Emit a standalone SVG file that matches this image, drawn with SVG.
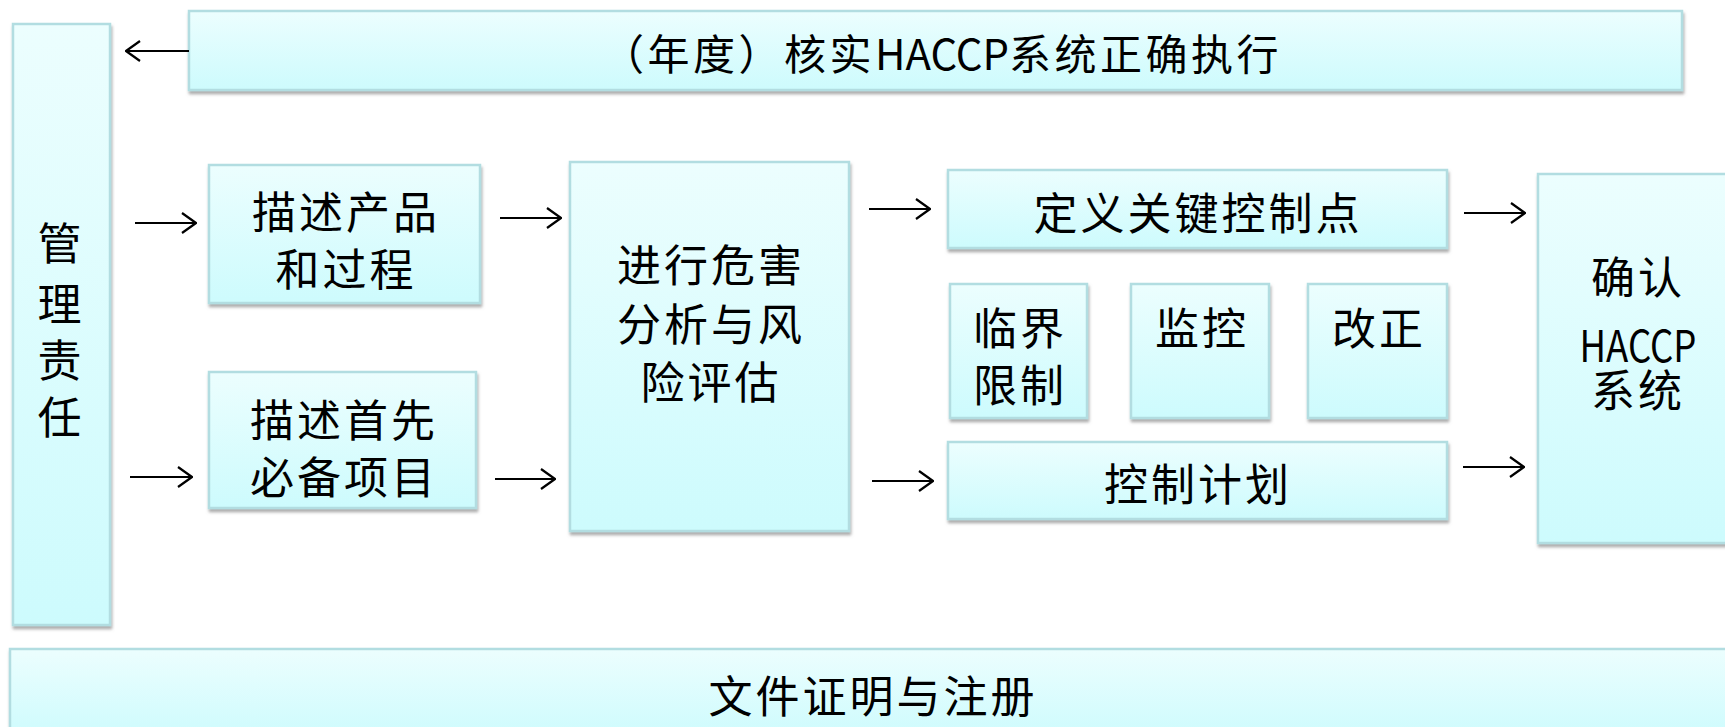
<svg xmlns="http://www.w3.org/2000/svg" width="1725" height="727" viewBox="0 0 1725 727">
<defs>
<linearGradient id="g" x1="0" y1="0" x2="0" y2="1">
<stop offset="0" stop-color="#ecfefe"/>
<stop offset="1" stop-color="#cdfbfd"/>
</linearGradient>
<filter id="sh" x="-5%" y="-5%" width="110%" height="115%">
<feDropShadow dx="1" dy="3" stdDeviation="1.6" flood-color="#666" flood-opacity="0.55"/>
</filter>
<marker id="ah" viewBox="0 0 16 22" refX="15" refY="11" markerWidth="16" markerHeight="22" markerUnits="userSpaceOnUse" orient="auto">
<path d="M1,1 L15,11 L1,21" fill="none" stroke="#000" stroke-width="2.2"/>
</marker>
<style>
.box{fill:url(#g);stroke:#b2dde1;stroke-width:2.5;filter:url(#sh)}
.t{font-family:"Noto Sans CJK SC","Noto Sans",sans-serif;font-size:44px;fill:#000;text-anchor:middle;dominant-baseline:central;letter-spacing:3px}
.c{fill:none;stroke:#000;stroke-width:2.2;marker-end:url(#ah)}
</style>
</defs>
<g id="mgmt">
<rect class="box" x="13" y="24" width="97" height="601"/>
<text class="t"><tspan x="61" y="241">管</tspan><tspan x="61" y="302">理</tspan><tspan x="61" y="358">责</tspan><tspan x="61" y="415">任</tspan></text>
</g>
<g id="annual">
<rect class="box" x="189" y="11" width="1493" height="79"/>
<text class="t" x="942" y="51" style="font-size:42px;letter-spacing:3.5px">（年度）核实<tspan textLength="134" lengthAdjust="spacingAndGlyphs" style="letter-spacing:0">HACCP</tspan>系统正确执行</text>
</g>
<g id="product">
<rect class="box" x="209" y="165" width="271" height="138"/>
<text class="t"><tspan x="346" y="210">描述产品</tspan><tspan x="346" y="267">和过程</tspan></text>
</g>
<g id="prereq">
<rect class="box" x="209" y="372" width="267" height="136"/>
<text class="t"><tspan x="344" y="418">描述首先</tspan><tspan x="344" y="475">必备项目</tspan></text>
</g>
<g id="hazard">
<rect class="box" x="570" y="162" width="279" height="369"/>
<text class="t"><tspan x="711" y="263">进行危害</tspan><tspan x="711" y="322">分析与风</tspan><tspan x="711" y="380">险评估</tspan></text>
</g>
<g id="ccp">
<rect class="box" x="948" y="170" width="499" height="78"/>
<text class="t" x="1198" y="211">定义关键控制点</text>
</g>
<g id="critical">
<rect class="box" x="950" y="284" width="137" height="134"/>
<text class="t"><tspan x="1020" y="326">临界</tspan><tspan x="1020" y="383">限制</tspan></text>
</g>
<g id="monitor">
<rect class="box" x="1131" y="284" width="138" height="134"/>
<text class="t" x="1202" y="326">监控</text>
</g>
<g id="correct">
<rect class="box" x="1308" y="284" width="139" height="134"/>
<text class="t" x="1379" y="326">改正</text>
</g>
<g id="plan">
<rect class="box" x="948" y="442" width="499" height="77"/>
<text class="t" x="1198" y="482">控制计划</text>
</g>
<g id="confirm">
<rect class="box" x="1538" y="174" width="200" height="369"/>
<text class="t"><tspan x="1638" y="275">确认</tspan><tspan x="1638" y="343" textLength="117" lengthAdjust="spacingAndGlyphs" style="letter-spacing:0">HACCP</tspan><tspan x="1638" y="388">系统</tspan></text>
</g>
<g id="docs">
<rect class="box" x="10" y="649" width="1730" height="90"/>
<text class="t" x="873" y="694">文件证明与注册</text>
</g>
<g id="connectors">
<line class="c" x1="189" y1="51" x2="126" y2="51"/>
<line class="c" x1="135" y1="223" x2="196" y2="223"/>
<line class="c" x1="130" y1="477" x2="192" y2="477"/>
<line class="c" x1="500" y1="218" x2="561" y2="218"/>
<line class="c" x1="495" y1="479" x2="555" y2="479"/>
<line class="c" x1="869" y1="209" x2="930" y2="209"/>
<line class="c" x1="872" y1="481" x2="933" y2="481"/>
<line class="c" x1="1464" y1="213" x2="1525" y2="213"/>
<line class="c" x1="1463" y1="467" x2="1524" y2="467"/>
</g>
</svg>
